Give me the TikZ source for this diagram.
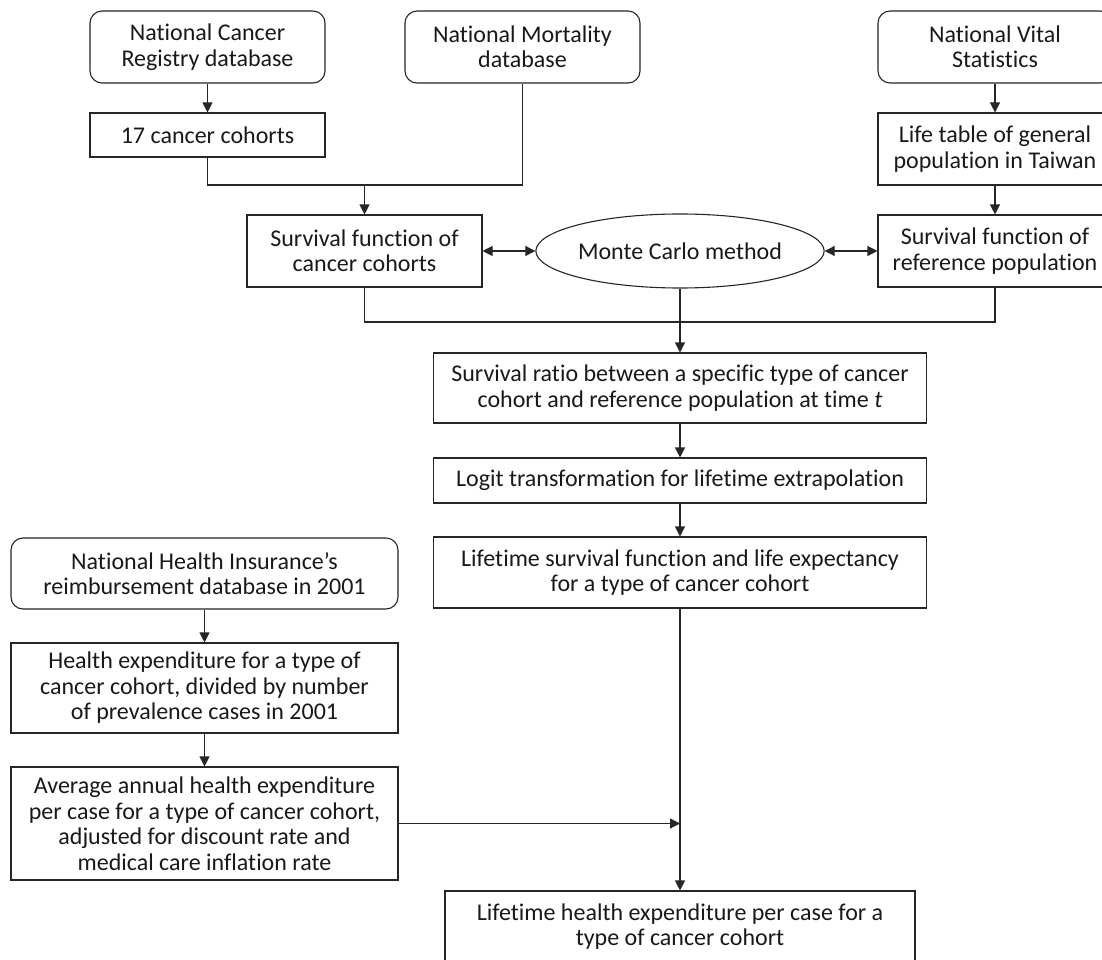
\documentclass[tikz,border=0pt]{standalone}
\usepackage{fontspec}
\setmainfont[Ligatures=CommonOff]{Carlito}
\usetikzlibrary{arrows.meta,shapes.geometric}
\tikzset{box/.style=
   {draw=black!85, line width=1.1pt, align=center, inner sep=0pt,
    text=black!90, font=\fontsize{24}{25.5}\selectfont},
   dbbox/.style={box, rounded corners=12pt},
   link/.style={draw=black!85, line width=1.1pt},
   arr/.style={-{Triangle[length=10pt,width=10pt]}},
   dbl/.style={{Triangle[length=10pt,width=10pt]}-{Triangle[length=10pt,width=10pt]}}}

\begin{document}
\begin{tikzpicture}[x=1pt, y=-1pt]
\useasboundingbox (0,0) rectangle (1102,960);
\fill[white] (0,0) rectangle (1102,960);
\clip (0,0) rectangle (1102,960);

% sources
\node[dbbox, minimum width=235pt, minimum height=72pt] (ncr) at (207.5,47) {National Cancer\\Registry database};
\node[dbbox, minimum width=235pt, minimum height=72pt] (nmd) at (522.5,47) {National Mortality\\database};
\node[dbbox, minimum width=234pt, minimum height=72pt] (nvs) at (995,47) {National Vital\\Statistics};
\node[box, minimum width=235pt, minimum height=44pt] (coh) at (207.5,135) {17 cancer cohorts};
\node[box, minimum width=234pt, minimum height=72pt] (life) at (995,149) {Life table of general\\population in Taiwan};

% survival functions
\node[box, minimum width=235pt, minimum height=72pt] (sfc) at (364.5,251) {Survival function of\\cancer cohorts};
\node[box, ellipse, minimum width=287pt, minimum height=74pt] (mc) at (680,251) {Monte Carlo method};
\node[box, minimum width=234pt, minimum height=72pt] (sfr) at (995,251) {Survival function of\\reference population};

% middle column
\node[box, minimum width=493pt, minimum height=70pt] (ratio) at (680,388) {Survival ratio between a specific type of cancer\\cohort and reference population at time \textit{t}};
\node[box, minimum width=493pt, minimum height=45pt] (logit) at (680,480.5) {Logit transformation for lifetime extrapolation};
\node[box, minimum width=493pt, minimum height=71pt] (lsf) at (680,572.5) {Lifetime survival function and life expectancy\\for a type of cancer cohort};
\node[box, minimum width=470pt, minimum height=71pt] (lhe) at (680,926.5) {Lifetime health expenditure per case for a\\type of cancer cohort};

% expenditure column
\node[dbbox, minimum width=387pt, minimum height=71pt] (nhi) at (204.5,573.5) {National Health Insurance’s\\reimbursement database in 2001};
\node[box, minimum width=387pt, minimum height=90pt] (hexp) at (204.5,688) {Health expenditure for a type of\\cancer cohort, divided by number\\of prevalence cases in 2001};
\node[box, minimum width=387pt, minimum height=113pt] (avg) at (204.5,823.5) {Average annual health expenditure\\per case for a type of cancer cohort,\\adjusted for discount rate and\\medical care inflation rate};

\coordinate (j1) at (364.5,185);
\coordinate (j2) at (680,322);

\draw[link, arr] (ncr) -- (coh);
\draw[link] (coh.south) |- (j1) -| (nmd.south);
\draw[link, arr] (j1) -- (sfc);
\draw[link, arr] (nvs) -- (life);
\draw[link, arr] (life) -- (sfr);
\draw[link, dbl] (sfc) -- (mc);
\draw[link, dbl] (mc) -- (sfr);
\draw[link] (sfc.south) |- (j2) -| (sfr.south);
\draw[link] (mc) -- (j2);
\draw[link, arr] (j2) -- (ratio);
\draw[link, arr] (ratio) -- (logit);
\draw[link, arr] (logit) -- (lsf);
\draw[link, arr] (lsf) -- (lhe);
\draw[link, arr] (nhi) -- (hexp);
\draw[link, arr] (hexp) -- (avg);
\draw[link, arr] (avg.east) -- (avg.east -| lsf.south);
\end{tikzpicture}
\end{document}
